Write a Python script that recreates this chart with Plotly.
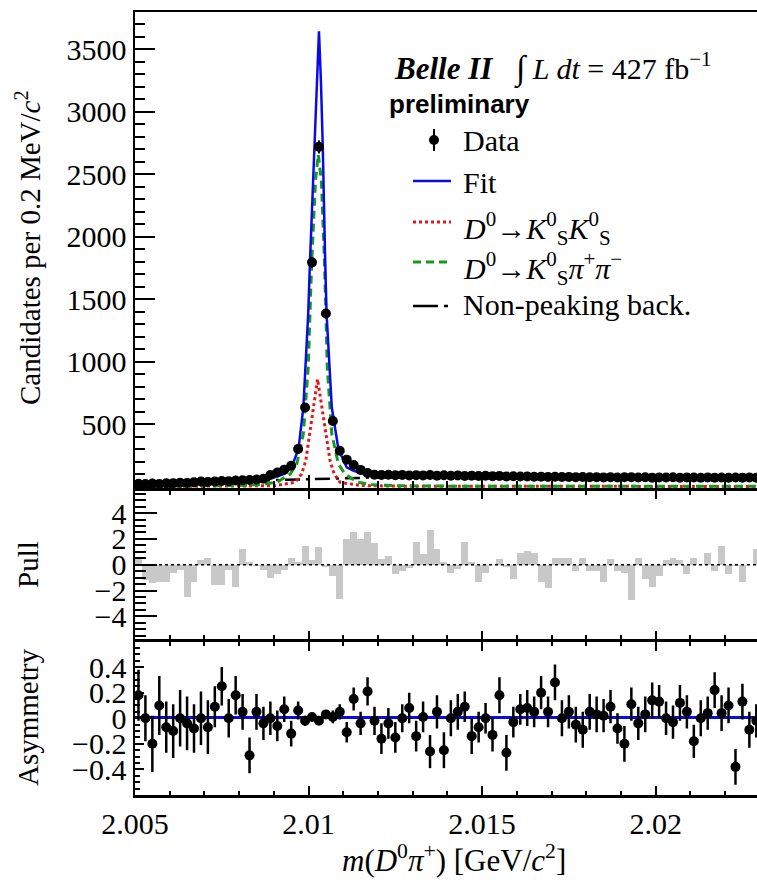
import numpy as np
import plotly.graph_objects as go

# ---------------- data ----------------
bin_centers = np.round(np.arange(2.0051, 2.0230, 0.0002), 4)[:90]

counts = [22, 20, 24, 21, 26, 27, 30, 29, 35, 40,
          37, 41, 44, 43, 48, 50, 52, 56, 62, 92,
          112, 135, 166, 300, 633, 1795, 2720, 1385, 524, 286,
          215, 172, 133, 108, 95, 92, 94, 90, 93, 88,
          91, 89, 92, 87, 90, 86, 89, 85, 87, 84,
          86, 83, 85, 81, 82, 80, 81, 78, 79, 77,
          78, 76, 77, 75, 76, 74, 75, 73, 75, 72,
          74, 75, 72, 74, 71, 73, 72, 74, 71, 73,
          72, 70, 73, 71, 72, 70, 72, 71, 73, 70]

pull = [0.5, -1.2, -1.4, -1.3, -1.3, -0.6, -0.4, -2.5, -1.3, 0.35,
        0.5, -1.6, -1.6, -0.4, -1.75, 1.2, 0.2, -0.1, -0.4, -1.0,
        -0.7, -0.4, 0.5, 0.25, 1.45, 0.35, 1.4, -0.2, -0.85, -2.65,
        2.0, 2.5, 2.0, 2.5, 1.7, 0.45, 0.7, -0.7, -0.5, -0.25,
        1.8, 0.8, 2.7, 1.2, 0.2, -0.6, -0.3, 1.8, 0.2, -1.35,
        -0.65, 0.0, 0.45, -0.2, -1.1, 0.9, 1.1, 0.9, -1.3, -1.8,
        0.5, 0.55, 0.5, -0.5, 0.5, -0.45, -0.45, -1.3, 0.45, -0.45,
        -0.65, -2.75, 0.5, -1.1, -1.75, -0.9, 0.4, 0.5, 0.4, -0.7,
        0.5, 0.0, 0.9, -0.5, 1.45, -0.7, -0.1, -1.35, 0.0, 1.25]

asym = [0.18, 0.0, -0.20, 0.10, -0.07, -0.10, 0.0, -0.04, -0.08, 0.0,
        -0.07, 0.09, 0.25, 0.0, 0.18, 0.05, -0.29, 0.05, -0.04, 0.0,
        -0.06, 0.07, -0.12, 0.06, -0.02, 0.01, -0.02, 0.03, 0.01, 0.05,
        -0.11, 0.15, -0.04, 0.21, -0.02, -0.16, -0.04, -0.15, 0.0, 0.08,
        -0.14, 0.01, -0.26, 0.05, -0.25, 0.0, 0.05, 0.09, -0.14, -0.07,
        0.0, -0.13, 0.18, -0.27, -0.03, 0.07, 0.08, 0.05, 0.20, 0.05,
        0.28, 0.0, 0.05, -0.05, -0.09, 0.05, 0.03, 0.02, 0.09, -0.08,
        -0.20, 0.11, -0.04, 0.03, 0.14, 0.13, 0.0, -0.03, 0.12, 0.05,
        -0.18, 0.0, 0.04, 0.22, 0.04, 0.10, -0.38, 0.13, -0.09, -0.02]

asym_err = [0.20, 0.18, 0.22, 0.23, 0.20, 0.21, 0.22, 0.21, 0.19, 0.21,
            0.21, 0.16, 0.15, 0.15, 0.15, 0.14, 0.14, 0.14, 0.13, 0.13,
            0.12, 0.10, 0.10, 0.07, 0.04, 0.03, 0.02, 0.03, 0.05, 0.06,
            0.08, 0.09, 0.09, 0.11, 0.11, 0.12, 0.12, 0.12, 0.11, 0.12,
            0.12, 0.12, 0.13, 0.13, 0.14, 0.14, 0.14, 0.12, 0.14, 0.12,
            0.12, 0.13, 0.14, 0.14, 0.12, 0.12, 0.14, 0.12, 0.13, 0.12,
            0.14, 0.14, 0.13, 0.14, 0.14, 0.14, 0.14, 0.13, 0.13, 0.12,
            0.14, 0.13, 0.13, 0.14, 0.14, 0.13, 0.13, 0.13, 0.14, 0.13,
            0.13, 0.14, 0.13, 0.14, 0.14, 0.14, 0.14, 0.14, 0.14, 0.13]

asym_fit = 0.005

# fit curves (x, y pairs)
fit_x = [2.005, 2.006, 2.007, 2.008, 2.0085, 2.009, 2.0093, 2.00951, 2.00971, 2.00985,
         2.00999, 2.01004, 2.01017, 2.01024, 2.0103, 2.01036, 2.01041, 2.01048, 2.01052,
         2.01067, 2.01086, 2.0111, 2.0113, 2.0116, 2.012, 2.013, 2.015, 2.017, 2.019,
         2.021, 2.023]
fit_y = [20, 30, 40, 50, 56, 72, 100, 153, 300, 633,
         1380, 1793, 2721, 3220, 3646, 3220, 2721, 1793, 1380,
         633, 300, 153, 125, 100, 90, 88, 87, 81, 77,
         75, 74]

kk_x = [2.005, 2.008, 2.009, 2.00961, 2.0098, 2.00992, 2.01004, 2.01017, 2.01026,
        2.01036, 2.0105, 2.01062, 2.01074, 2.01091, 2.0115, 2.0125, 2.023]
kk_y = [0, 2, 6, 33, 100, 206, 420, 686, 860,
        686, 420, 206, 100, 33, 8, 3, 0]

kpp_x = [2.005, 2.007, 2.008, 2.0087, 2.0091, 2.00947, 2.00966, 2.00985, 2.00999,
         2.01009, 2.0102, 2.01028, 2.01037, 2.01046, 2.01054, 2.01067, 2.01086,
         2.01105, 2.0114, 2.0118, 2.0125, 2.014, 2.023]
kpp_y = [2, 4, 8, 18, 35, 100, 180, 420, 953,
         1793, 2450, 2660, 2450, 1793, 953, 420, 180,
         100, 35, 15, 6, 3, 2]

bkg_x = [2.005, 2.006, 2.007, 2.008, 2.009, 2.010, 2.011, 2.012, 2.013, 2.015,
         2.017, 2.019, 2.021, 2.023]
bkg_y = [18, 27, 36, 45, 53, 59, 65, 75, 82, 84,
         78, 74, 72, 71]

x_ticks = [2.005, 2.01, 2.015, 2.02]
x_ticktext = ["2.005", "2.01", "2.015", "2.02"]
y_ticks = [0, 500, 1000, 1500, 2000, 2500, 3000, 3500]
y_ticktext = ["", "500", "1000", "1500", "2000", "2500", "3000", "3500"]
pull_ticks = [-4, -2, 0, 2, 4]
pull_ticktext = ["\u22124", "\u22122", "0", "2", "4"]
asym_ticks = [-0.4, -0.2, 0, 0.2, 0.4]
asym_ticktext = ["\u22120.4", "\u22120.2", "0", "0.2", "0.4"]

# ---------------- style ----------------
W, H = 757, 884
ML, MR, MT, MB = 135, 0, 12, 89
SERIF = "Liberation Serif"
BLUE = "#0a0ae6"
RED = "#e8141e"
GREEN = "#149a1e"
GRAY = "#c8c8c8"
XMAX = 2.02292
FS = 30  # horizontal text size


def px(x):
    return (x - ML) / (W - ML - MR)


def py(y):
    return (H - MB - y) / (H - MT - MB)


top_dom = [py(488), 1.0]
pull_dom = [py(639), py(490.5)]
asym_dom = [0.0, py(641.5)]

fig = go.Figure()

# top panel
fig.add_trace(go.Scatter(x=bkg_x, y=bkg_y, mode="lines",
                         line=dict(color="black", width=2.5, dash="longdashdot"),
                         xaxis="x", yaxis="y"))
fig.add_trace(go.Scatter(x=kk_x, y=kk_y, mode="lines",
                         line=dict(color=RED, width=3, dash="dot"),
                         xaxis="x", yaxis="y"))
fig.add_trace(go.Scatter(x=kpp_x, y=kpp_y, mode="lines",
                         line=dict(color=GREEN, width=3, dash="8px,5px"),
                         xaxis="x", yaxis="y"))
fig.add_trace(go.Scatter(x=fit_x, y=fit_y, mode="lines",
                         line=dict(color=BLUE, width=2.5),
                         xaxis="x", yaxis="y"))
fig.add_trace(go.Scatter(x=bin_centers, y=counts, mode="markers",
                         marker=dict(color="black", size=10),
                         error_y=dict(type="data", array=np.sqrt(counts), color="black",
                                      thickness=2, width=0),
                         xaxis="x", yaxis="y"))

# pull panel
fig.add_trace(go.Bar(x=bin_centers, y=pull, width=0.0002,
                     marker=dict(color=GRAY, line=dict(width=0)),
                     xaxis="x2", yaxis="y2"))
fig.add_trace(go.Scatter(x=[2.005, XMAX], y=[0, 0], mode="lines",
                         line=dict(color="black", width=1.5, dash="dot"),
                         xaxis="x2", yaxis="y2"))

# asymmetry panel
fig.add_trace(go.Scatter(x=[2.005, XMAX], y=[0, 0], mode="lines",
                         line=dict(color="black", width=1.5, dash="dot"),
                         xaxis="x3", yaxis="y3"))
fig.add_trace(go.Scatter(x=[2.005, XMAX], y=[asym_fit, asym_fit], mode="lines",
                         line=dict(color=BLUE, width=3),
                         xaxis="x3", yaxis="y3"))
fig.add_trace(go.Scatter(x=bin_centers, y=asym, mode="markers",
                         marker=dict(color="black", size=10),
                         error_y=dict(type="data", array=asym_err, color="black",
                                      thickness=2.5, width=0),
                         xaxis="x3", yaxis="y3"))

axis_common = dict(showline=True, linecolor="black", linewidth=2.5, showgrid=False,
                   zeroline=False, ticks="inside", tickcolor="black", tickwidth=2,
                   tickfont=dict(family=SERIF, size=FS, color="black"))

fig.update_layout(
    width=W, height=H, margin=dict(l=ML, r=MR, t=MT, b=MB),
    paper_bgcolor="white", plot_bgcolor="white", showlegend=False,
    bargap=0,
    xaxis=dict(axis_common, domain=[0, 1], range=[2.005, XMAX], anchor="y",
               tickmode="array", tickvals=x_ticks, showticklabels=False,
               ticklen=13, mirror=True,
               minor=dict(tickmode="linear", tick0=2.005, dtick=0.001, ticklen=7,
                          ticks="inside", tickwidth=2, tickcolor="black")),
    yaxis=dict(axis_common, domain=top_dom, range=[-12, 3800], anchor="x",
               tickmode="array", tickvals=y_ticks, ticktext=y_ticktext,
               ticklen=20, ticklabelstandoff=0,
               minor=dict(tickmode="linear", tick0=0, dtick=100, ticklen=10,
                          ticks="inside", tickwidth=2, tickcolor="black")),
    xaxis2=dict(axis_common, domain=[0, 1], range=[2.005, XMAX], anchor="y2",
                tickmode="array", tickvals=x_ticks, showticklabels=False,
                ticklen=8, mirror="ticks",
                minor=dict(tickmode="linear", tick0=2.005, dtick=0.001, ticklen=4,
                           ticks="inside", tickwidth=2, tickcolor="black")),
    yaxis2=dict(axis_common, domain=pull_dom, range=[-5.75, 5.75], anchor="x2",
                tickmode="array", tickvals=pull_ticks, ticktext=pull_ticktext,
                ticklen=22, ticklabelstandoff=0,
                minor=dict(tickmode="linear", tick0=0, dtick=0.5, ticklen=11,
                           ticks="inside", tickwidth=2, tickcolor="black")),
    xaxis3=dict(axis_common, domain=[0, 1], range=[2.005, XMAX], anchor="y3",
                tickmode="array", tickvals=x_ticks, ticktext=x_ticktext,
                ticklen=9, mirror="ticks", ticklabelstandoff=0,
                minor=dict(tickmode="linear", tick0=2.005, dtick=0.001, ticklen=4,
                           ticks="inside", tickwidth=2, tickcolor="black")),
    yaxis3=dict(axis_common, domain=asym_dom, range=[-0.6, 0.6], anchor="x3",
                tickmode="array", tickvals=asym_ticks, ticktext=asym_ticktext,
                ticklen=9, ticklabelstandoff=0,
                minor=dict(tickmode="linear", tick0=0, dtick=0.05, ticklen=5,
                           ticks="inside", tickwidth=2, tickcolor="black")),
)

ann = []


def text(x, y, s, size=FS, family=SERIF, xanchor="center", angle=0, yanchor="middle"):
    ann.append(dict(x=px(x), y=py(y), xref="paper", yref="paper", text=s,
                    showarrow=False, xanchor=xanchor, yanchor=yanchor, textangle=angle,
                    font=dict(family=family, size=size, color="black")))


text(28, 248, "Candidates per 0.2 MeV/<i>c</i><sup>2</sup>", size=29, angle=-90)
text(28, 565, "Pull", size=29, angle=-90)
text(28, 718, "Asymmetry", size=29, angle=-90)
text(454, 858, "<i>m</i>(<i>D</i><sup>0</sup><i>\u03c0</i><sup>+</sup>) [GeV/<i>c</i><sup>2</sup>]",
     size=31)

text(392, 68, "<b><i>Belle II</i></b>", size=31, xanchor="left")
text(512, 68, "<span style='font-size:34px'>\u222b</span> <i>L dt</i> = 427 fb<sup>\u22121</sup>",
     size=30, xanchor="left")
text(387, 104, "<b>preliminary</b>", size=26, family="Liberation Sans", xanchor="left")
text(461, 140, "Data", xanchor="left")
text(461, 182, "Fit", xanchor="left")
text(461, 228, "<i>D</i><sup>0</sup>\u2192<i>K</i><sup>0</sup><sub>S</sub><i>K</i><sup>0</sup><sub>S</sub>",
     xanchor="left")
text(461, 268, "<i>D</i><sup>0</sup>\u2192<i>K</i><sup>0</sup><sub>S</sub><i>\u03c0</i><sup>+</sup><i>\u03c0</i><sup>\u2212</sup>",
     xanchor="left")
text(461, 304, "Non-peaking back.", xanchor="left")

shapes = []


def seg(x0, y0, x1, y1, color, width, dash="solid"):
    shapes.append(dict(type="line", xref="paper", yref="paper",
                       x0=px(x0), y0=py(y0), x1=px(x1), y1=py(y1),
                       line=dict(color=color, width=width, dash=dash)))


seg(434, 129, 434, 151, "black", 2)
shapes.append(dict(type="circle", xref="paper", yref="paper",
                   x0=px(429), x1=px(439), y0=py(135), y1=py(145),
                   fillcolor="black", line=dict(color="black", width=0)))
seg(413, 181, 451, 181, BLUE, 2.5)
seg(413, 222, 451, 222, RED, 3, "dot")
seg(413, 262, 451, 262, GREEN, 3, "8px,5px")
seg(413, 306, 451, 306, "black", 2.5, "25px,6px,4px,6px")

fig.update_layout(annotations=ann, shapes=shapes)

fig.write_html("out.html",
               config={"displayModeBar": False, "staticPlot": True},
               post_script="document.body.style.margin='0px';"
                           "document.body.style.overflow='hidden';")
